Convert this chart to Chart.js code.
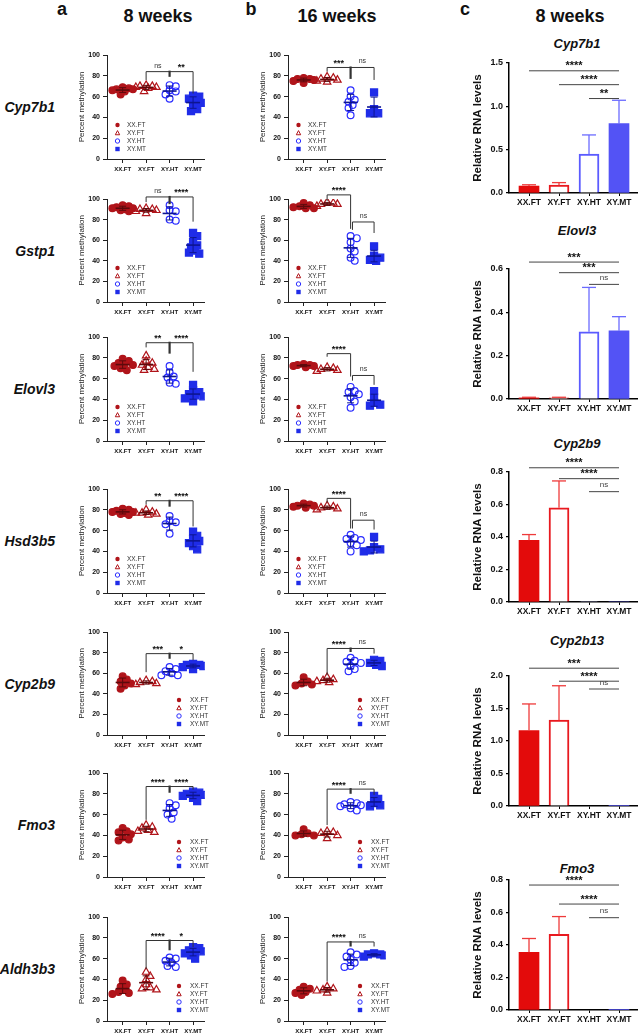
<!DOCTYPE html>
<html><head><meta charset="utf-8">
<script src="https://cdn.jsdelivr.net/npm/chart.js@4.4.0/dist/chart.umd.min.js"></script>
<style>
html,body{margin:0;padding:0;background:#fff;}
#fig{position:relative;width:641px;height:1036px;overflow:hidden;font-family:"Liberation Sans",Arial,sans-serif;}
.lbl{position:absolute;white-space:nowrap;}
canvas{position:absolute;}
</style></head><body><div id="fig"></div>
<script>
// ---------- DATA ----------
const groups = ['XX.FT','XY.FT','XY.HT','XY.MT'];
const genesMeth = ['Cyp7b1','Gstp1','Elovl3','Hsd3b5','Cyp2b9','Fmo3','Aldh3b3'];
const genesRNA = ['Cyp7b1','Elovl3','Cyp2b9','Cyp2b13','Fmo3'];
const methTicks = [0,20,40,60,80,100];

// Percent methylation, 8 weeks: [XX.FT, XY.FT, XY.HT, XY.MT]
const w8_Cyp7b1  = [[69,68,67,67,66,65,62],[71,70,70,69,69,68,65],[71,70,66,65,62,58],[61,60,58,56,54,51,48,46]];
const w8_Gstp1   = [[94,93,92,91,91,90,89,88],[91,90,90,89,88,86],[94,89,88,80,79],[67,64,58,55,53,50,48,47]];
const w8_Elovl3  = [[79,77,75,74,73,72,70,68],[82,77,75,73,71,69,68],[72,66,62,61,56,55],[54,49,47,45,44,43,41,38]];
const w8_Hsd3b5  = [[81,80,79,78,78,77,76,75],[80,78,77,77,76,75],[74,69,68,66,57],[59,55,52,50,48,45,42]];
const w8_Cyp2b9  = [[57,54,52,50,48,45],[53,52,51,50,49],[66,64,62,60,58,58],[69,68,68,67,66,64]];
const w8_Fmo3    = [[47,44,43,41,38,36,35],[50,48,47,45,44,43],[71,69,66,62,60,56],[82,81,80,79,78,76,73]];
const w8_Aldh3b3 = [[39,35,33,30,28,27,26],[47,43,40,35,32,31,30],[61,60,58,56,53,52],[71,70,68,67,66,65,63,60]];

// Percent methylation, 16 weeks
const w16_Cyp7b1  = [[78,77,77,76,75,73],[79,78,77,76,75,74],[66,60,57,55,52,49,42],[64,48,44,44]];
const w16_Gstp1   = [[96,94,93,92,91,91],[97,96,95,95,93],[64,62,58,52,49,43,40],[54,45,43,41,40]];
const w16_Elovl3  = [[74,73,73,72,72,71],[71,70,69,68,67],[52,48,47,45,42,38,32],[48,42,37,35,34]];
const w16_Hsd3b5  = [[86,85,84,84,83,82],[84,83,82,81,80],[56,53,52,51,48,46,40],[54,44,42,41,40]];
const w16_Cyp2b9  = [[56,52,50,49,48],[56,54,53,52,51],[75,72,71,70,67,64,62],[73,72,70,68,67]];
const w16_Fmo3    = [[46,42,41,40,40],[44,43,42,40,37],[72,71,70,69,68,66,64],[78,75,71,69,68]];
const w16_Aldh3b3 = [[33,31,30,28,27,25],[33,31,30,29,27],[66,64,62,59,56,53,52],[65,64,64,63,62]];

// significance brackets: [lineValue, [[group, legEndValue, thick]], [[groupPos, text]]]
const w8_Cyp7b1_sig  = [[84,[[1,76,0],[2,79,1],[3,63,0]],[[1.5,'ns'],[2.5,'**']]]];
const w8_Gstp1_sig   = [[102,[[1,97,0],[2,95,1],[3,78,0]],[[1.5,'ns'],[2.5,'****']]]];
const w8_Elovl3_sig  = [[94.5,[[1,90,0],[2,84,1],[3,66.5,0]],[[1.5,'**'],[2.5,'****']]]];
const w8_Hsd3b5_sig  = [[88.7,[[1,85,0],[2,83,1],[3,64,0]],[[1.5,'**'],[2.5,'****']]]];
const w8_Cyp2b9_sig  = [[79,[[1,61,0],[2,74,1],[3,72.6,0]],[[1.5,'***'],[2.5,'*']]]];
const w8_Fmo3_sig    = [[87,[[1,55,0],[2,81,1],[3,84,0]],[[1.5,'****'],[2.5,'****']]]];
const w8_Aldh3b3_sig = [[77.4,[[1,50,0],[2,68,1],[3,71,0]],[[1.5,'****'],[2.5,'*']]]];
const w16_Cyp7b1_sig  = [[88,[[1,84,0],[2,77,1],[3,76,0]],[[1.5,'***'],[2.5,'ns']]]];
const w16_Gstp1_sig   = [[104,[[1,98,0],[2,71,0]],[[1.5,'****']]],[77.7,[[2.08,70,0],[3,67,0]],[[2.55,'ns']]]];
const w16_Elovl3_sig  = [[84,[[1,81,0],[2,62,0]],[[1.5,'****']]],[63,[[2.08,58,0],[3,54,0]],[[2.55,'ns']]]];
const w16_Hsd3b5_sig  = [[91,[[1,87,0],[2,62,0]],[[1.5,'****']]],[70,[[2.08,62,0],[3,61,0]],[[2.55,'ns']]]];
const w16_Cyp2b9_sig  = [[84,[[1,58,0],[2,80.6,1],[3,79,0]],[[1.5,'****'],[2.5,'ns']]]];
const w16_Fmo3_sig    = [[84.5,[[1,50,0],[2,80,1],[3,79,0]],[[1.5,'****'],[2.5,'ns']]]];
const w16_Aldh3b3_sig = [[76,[[1,38,0],[2,71.6,1],[3,71.6,0]],[[1.5,'****'],[2.5,'ns']]]];

// Relative RNA levels, 8 weeks (mean, SD)
const rna_Cyp7b1  = [0.08, 0.09, 0.45, 0.80];   const sd_Cyp7b1  = [0.015, 0.03, 0.22, 0.27];
const rna_Elovl3  = [0.005, 0.005, 0.31, 0.315]; const sd_Elovl3  = [0.003, 0.003, 0.205, 0.065];
const rna_Cyp2b9  = [0.38, 0.58, 0.003, 0];      const sd_Cyp2b9  = [0.035, 0.165, 0, 0];
const rna_Cyp2b13 = [1.16, 1.32, 0, 0.01];       const sd_Cyp2b13 = [0.41, 0.53, 0, 0];
const rna_Fmo3    = [0.355, 0.465, 0, 0.003];    const sd_Fmo3    = [0.085, 0.11, 0, 0];
const rnaMax  = [1.5, 0.6, 0.8, 2.0, 0.8];
const rnaStep = [0.5, 0.2, 0.2, 0.5, 0.2];
// [fromGroup, lineValue, text] -> line to XY.MT
const rna_Cyp7b1_sig  = [[0,1.41,'****'],[1,1.25,'****'],[2,1.09,'**']];
const rna_Elovl3_sig  = [[0,0.632,'***'],[1,0.583,'***'],[2,0.529,'ns']];
const rna_Cyp2b9_sig  = [[0,0.826,'****'],[1,0.759,'****'],[2,0.679,'ns']];
const rna_Cyp2b13_sig = [[0,2.12,'***'],[1,1.92,'****'],[2,1.80,'ns']];
const rna_Fmo3_sig    = [[0,0.769,'****'],[1,0.652,'****'],[2,0.568,'ns']];

// ---------- ASSEMBLY ----------
const w8  = [w8_Cyp7b1,w8_Gstp1,w8_Elovl3,w8_Hsd3b5,w8_Cyp2b9,w8_Fmo3,w8_Aldh3b3];
const w8s = [w8_Cyp7b1_sig,w8_Gstp1_sig,w8_Elovl3_sig,w8_Hsd3b5_sig,w8_Cyp2b9_sig,w8_Fmo3_sig,w8_Aldh3b3_sig];
const w16  = [w16_Cyp7b1,w16_Gstp1,w16_Elovl3,w16_Hsd3b5,w16_Cyp2b9,w16_Fmo3,w16_Aldh3b3];
const w16s = [w16_Cyp7b1_sig,w16_Gstp1_sig,w16_Elovl3_sig,w16_Hsd3b5_sig,w16_Cyp2b9_sig,w16_Fmo3_sig,w16_Aldh3b3_sig];
const rnaV = [rna_Cyp7b1,rna_Elovl3,rna_Cyp2b9,rna_Cyp2b13,rna_Fmo3];
const rnaS = [sd_Cyp7b1,sd_Elovl3,sd_Cyp2b9,sd_Cyp2b13,sd_Fmo3];
const rnaG = [rna_Cyp7b1_sig,rna_Elovl3_sig,rna_Cyp2b9_sig,rna_Cyp2b13_sig,rna_Fmo3_sig];

const FONT = '"Liberation Sans", Arial, sans-serif';
Chart.defaults.font.family = FONT;
const fig = document.getElementById('fig');

// layout
const rowTop = [55,199,337,489,632,773,917];
const rowBot = [159,302,441,593,735,877,1021];
const colA = [107,207], colB = [288,388];
const cTop = [63,269,472,676,880], cBot = [193,399,602,806,1010], cTitle = [43,230,443,640,868];
const colC = [509,637];

const redD = '#b0141a', blueD = '#1f2ce8';
const ptColor = [redD, redD, '#2a2cff', blueD];
const ptFill  = [redD, 'rgba(0,0,0,0)', 'rgba(0,0,0,0)', blueD];
const ptStyle = ['circle','triangle','circle','rect'];
const ptRad   = [3.4, 4.3, 3.4, 5];
const barCol  = ['#e30b0b','#fff','#fff','#5353f5'];
const barBord = ['#e30b0b','#e8191f','#5b5bff','#5353f5'];
const errCol  = ['#ee3a3a','#ee3a3a','#6b6bff','#6b6bff'];

function addText(str, x, base, size, o={}) {
  const d=document.createElement('div'); d.className='lbl'; d.textContent=str;
  d.style.fontSize=size+'px'; d.style.lineHeight=size+'px';
  d.style.fontWeight=o.weight||'bold'; d.style.fontStyle=o.style||'normal'; d.style.color=o.color||'#111';
  d.style.top=(base-0.8465*size)+'px';
  const al=o.align||'center';
  if(al==='center'){d.style.left=x+'px'; d.style.transform='translateX(-50%)';}
  else if(al==='right'){d.style.right=(641-x)+'px';}
  else d.style.left=x+'px';
  fig.appendChild(d);
}
function mkCanvas(l,t,w,h){
  const c=document.createElement('canvas'); c.width=w; c.height=h;
  Object.assign(c.style,{left:l+'px',top:t+'px',width:w+'px',height:h+'px'});
  fig.appendChild(c); return c;
}
// compact horizontal spread of points (display only)
function swarm(vals, g){
  const order = vals.map((v,i)=>i).sort((a,b)=>vals[b]-vals[a]);
  const cands=[0]; for(let k=1;k<=5;k++){cands.push(k*2.1,-k*2.1);}
  const placed=[];
  for(const i of order){
    const v=vals[i]; let dx=null, bestD=-1, bestC=0;
    for(const c of cands){
      const md = placed.length ? Math.min(...placed.map(p=>Math.hypot(p.dx-c,(p.v-v)*1.04))) : 99;
      if(md>=5){dx=c;break;}
      if(md>bestD){bestD=md;bestC=c;}
    }
    if(dx===null) dx=bestC;
    placed.push({v,dx});
  }
  return placed.map(p=>({x:g+p.dx/24,y:p.v}));
}
function stats(a){const m=a.reduce((s,v)=>s+v,0)/a.length;const sd=Math.sqrt(a.reduce((s,v)=>s+(v-m)**2,0)/(a.length-1));return [m,sd];}
function seg(ctx,x1,y1,x2,y2){ctx.beginPath();ctx.moveTo(x1,y1);ctx.lineTo(x2,y2);ctx.stroke();}
function sym(ctx,g,x,y,r){
  ctx.save(); ctx.strokeStyle=ptColor[g]; ctx.fillStyle=ptColor[g]; ctx.lineWidth=1;
  ctx.beginPath();
  if(g===0){ctx.arc(x,y,r,0,Math.PI*2);ctx.fill();}
  else if(g===1){ctx.moveTo(x,y-r*1.1);ctx.lineTo(x+r,y+r*0.8);ctx.lineTo(x-r,y+r*0.8);ctx.closePath();ctx.stroke();}
  else if(g===2){ctx.arc(x,y,r,0,Math.PI*2);ctx.stroke();}
  else {ctx.rect(x-r,y-r,2*r,2*r);ctx.fill();}
  ctx.restore();
}

function dotChart(vals, sig, xr, row, legendRight){
  const yW=34, xH=20, padTop=20, padRight=4;
  const t=rowTop[row], b=rowBot[row];
  const W=(xr[1]-xr[0])+yW+padRight, H=(b-t)+padTop+xH;
  const c=mkCanvas(xr[0]-yW, t-padTop, W, H);
  const datasets = vals.map((v,g)=>({
    data: swarm(v,g), pointStyle: ptStyle[g], pointRadius: ptRad[g],
    pointBackgroundColor: ptFill[g], pointBorderColor: ptColor[g], pointBorderWidth: 1.2,
    showLine:false
  }));
  const deco = {id:'deco', afterDatasetsDraw(chart){
    const ctx=chart.ctx, xs=chart.scales.x, ys=chart.scales.y, ca=chart.chartArea;
    ctx.save();
    vals.forEach((v,g)=>{
      const [m,sd]=stats(v); const x=xs.getPixelForValue(g);
      ctx.strokeStyle = g<2 ? '#5c0a0c' : '#0d1590';
      ctx.lineWidth=1.6; const ym=ys.getPixelForValue(m); seg(ctx,x-7,ym,x+7,ym);
      ctx.lineWidth=1; const y1=ys.getPixelForValue(m-sd), y2=ys.getPixelForValue(m+sd);
      seg(ctx,x,y1,x,y2); seg(ctx,x-3.5,y1,x+3.5,y1); seg(ctx,x-3.5,y2,x+3.5,y2);
    });
    ctx.strokeStyle='#333';
    sig.forEach(([lv,legs,labels])=>{
      const yp=ys.getPixelForValue(lv);
      const px=legs.map(l=>xs.getPixelForValue(l[0]));
      ctx.lineWidth=1; seg(ctx,Math.min(...px),yp,Math.max(...px),yp);
      legs.forEach(([gp,e,th],k)=>{ctx.lineWidth=th?2.2:1; seg(ctx,px[k],yp-(th?1:0),px[k],ys.getPixelForValue(e));});
      labels.forEach(([gp,txt])=>{
        const x=xs.getPixelForValue(gp);
        ctx.textAlign='center'; ctx.textBaseline='alphabetic';
        if(txt==='ns'){ctx.font='7px '+FONT; ctx.fillStyle='#333'; ctx.fillText(txt,x,yp-4);}
        else {ctx.font='bold 9px '+FONT; ctx.fillStyle='#111'; ctx.fillText(txt,x,yp-1.5);}
      });
    });
    // legend
    const sx = legendRight ? ca.left+72 : ca.left+10.5;
    const y0 = legendRight ? ca.bottom-35 : ca.bottom-34;
    ctx.font='6.5px '+FONT; ctx.textAlign='left'; ctx.textBaseline='middle'; ctx.fillStyle='#333';
    groups.forEach((gname,g)=>{
      const y=y0+g*8; sym(ctx,g,sx,y,2.2);
      ctx.fillStyle='#333'; ctx.fillText(gname,sx+(legendRight?11:9.5),y+0.5);
    });
    ctx.restore();
  }};
  new Chart(c,{type:'scatter',data:{datasets},plugins:[deco],options:{
    responsive:false, animation:false, events:[],
    layout:{padding:{top:padTop,right:padRight,left:0,bottom:0}},
    plugins:{legend:{display:false},tooltip:{enabled:false}},
    scales:{
      x:{type:'linear',min:-0.667,max:3.5,
        afterBuildTicks:s=>{s.ticks=[0,1,2,3].map(v=>({value:v}));},
        afterFit:s=>{s.height=xH;},
        ticks:{callback:v=>groups[v],font:{size:6,weight:'bold'},color:'#111',padding:3,maxRotation:0,autoSkip:false},
        grid:{display:true,drawOnChartArea:false,drawTicks:true,tickLength:4,color:'#222',lineWidth:1},
        border:{display:true,color:'#222',width:1}},
      y:{min:0,max:100,
        afterBuildTicks:s=>{s.ticks=methTicks.map(v=>({value:v}));},
        afterFit:s=>{s.width=yW;},
        ticks:{font:{size:7,weight:'bold'},color:'#111',padding:3},
        title:{display:true,text:'Percent methylation',font:{size:8,weight:'normal'},color:'#222',padding:{top:4,bottom:0}},
        grid:{display:true,drawOnChartArea:false,drawTicks:true,tickLength:4,color:'#222',lineWidth:1},
        border:{display:true,color:'#222',width:1}}
    }}});
}

function barChart(i){
  const yW=42, xH=18, padTop=26, padRight=4;
  const t=cTop[i], b=cBot[i];
  const W=(colC[1]-colC[0])+yW+padRight, H=(b-t)+padTop+xH;
  const c=mkCanvas(colC[0]-yW, t-padTop, W, H);
  const vals=rnaV[i], sds=rnaS[i], sig=rnaG[i];
  const deco={id:'deco2', afterDatasetsDraw(chart){
    const ctx=chart.ctx, xs=chart.scales.x, ys=chart.scales.y;
    ctx.save();
    vals.forEach((v,g)=>{
      if(sds[g]<=0) return;
      const x=xs.getPixelForValue(g), y1=ys.getPixelForValue(v), y2=ys.getPixelForValue(v+sds[g]);
      ctx.strokeStyle=errCol[g]; ctx.lineWidth=1.3;
      seg(ctx,x,y1,x,y2); seg(ctx,x-7,y2,x+7,y2);
    });
    sig.forEach(([from,lv,txt])=>{
      const x1=xs.getPixelForValue(from), x2=xs.getPixelForValue(3), yp=ys.getPixelForValue(lv);
      ctx.strokeStyle='#444'; ctx.lineWidth=1; seg(ctx,x1,yp,x2,yp);
      ctx.textAlign='center'; ctx.textBaseline='alphabetic';
      const xm=(x1+x2)/2;
      if(txt==='ns'){ctx.font='8px '+FONT; ctx.fillStyle='#444'; ctx.fillText(txt,xm,yp-4.5);}
      else {ctx.font='bold 11px '+FONT; ctx.fillStyle='#111'; ctx.fillText(txt,xm,yp-1.5);}
    });
    ctx.restore();
  }};
  const ticksArr=[]; for(let v=0; v<=rnaMax[i]+1e-9; v+=rnaStep[i]) ticksArr.push(+v.toFixed(2));
  new Chart(c,{type:'bar',data:{datasets:[{
      data: vals.map((v,g)=>({x:g,y:v})),
      backgroundColor: barCol, borderColor: barBord, borderWidth:[0,2,2,0],
      borderSkipped:'start', barThickness:20
    }]},plugins:[deco],options:{
    responsive:false, animation:false, events:[],
    layout:{padding:{top:padTop,right:padRight,left:0,bottom:0}},
    plugins:{legend:{display:false},tooltip:{enabled:false}},
    scales:{
      x:{type:'linear',min:-0.667,max:3.6,offset:false,
        afterBuildTicks:s=>{s.ticks=[0,1,2,3].map(v=>({value:v}));},
        afterFit:s=>{s.height=xH;},
        ticks:{callback:v=>groups[v],font:{size:8.5,weight:'bold'},color:'#111',padding:2,maxRotation:0,autoSkip:false},
        grid:{display:true,offset:false,drawOnChartArea:false,drawTicks:true,tickLength:3,color:'#000',lineWidth:1},
        border:{display:true,color:'#000',width:1.5}},
      y:{min:0,max:rnaMax[i],
        afterBuildTicks:s=>{s.ticks=ticksArr.map(v=>({value:v}));},
        afterFit:s=>{s.width=yW;},
        ticks:{callback:v=>Number(v).toFixed(1),font:{size:9,weight:'bold'},color:'#111',padding:3},
        title:{display:true,text:'Relative RNA levels',font:{size:11.5,weight:'bold'},color:'#111',padding:{top:4,bottom:0}},
        grid:{display:true,drawOnChartArea:false,drawTicks:true,tickLength:3,color:'#000',lineWidth:1.2},
        border:{display:true,color:'#000',width:1.5}}
    }}});
}

// headers
addText('a',62,15,18); addText('8 weeks',158,22,18);
addText('b',251,15,18); addText('16 weeks',337,22,18);
addText('c',465,15,18); addText('8 weeks',570,22,18);

for(let r=0;r<7;r++){
  const mid=(rowTop[r]+rowBot[r])/2;
  addText(genesMeth[r],55,mid+5,14,{style:'italic',align:'right'});
  dotChart(w8[r], w8s[r], colA, r, r>=4);
  dotChart(w16[r], w16s[r], colB, r, r>=4);
}
for(let i=0;i<5;i++){
  addText(genesRNA[i],577,cTitle[i]+4.7,13,{style:'italic'});
  barChart(i);
}
</script></body></html>
